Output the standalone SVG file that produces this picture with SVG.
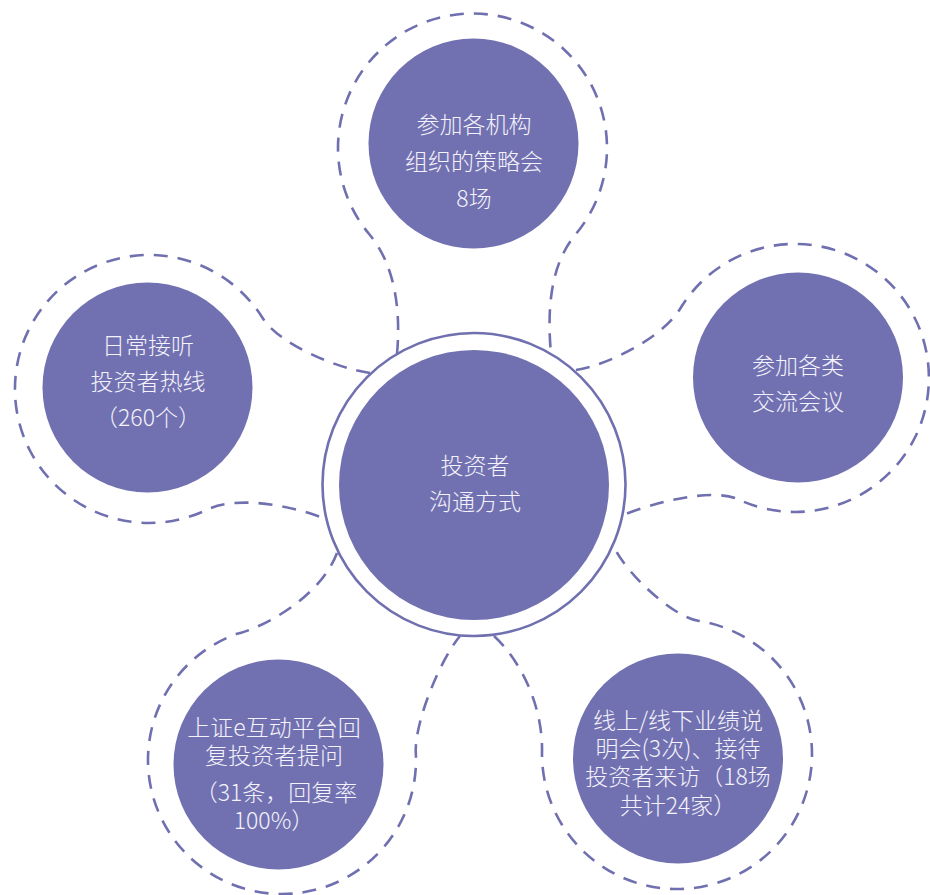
<svg xmlns="http://www.w3.org/2000/svg" width="930" height="895" viewBox="0 0 930 895">
<style>
.dash{fill:none;stroke:#7070B0;stroke-width:2.6;stroke-dasharray:14 10}
.node{fill:#7171B1}
.ring{fill:#FFFFFF;stroke:#7070B0;stroke-width:2.6}
.t{font-family:"Noto Sans CJK SC","Noto Sans",sans-serif;font-size:23px;font-weight:300;fill:#F4F2FA;text-anchor:middle}
</style>
<rect x="0" y="0" width="930" height="895" fill="#FFFFFF"/>
<g id="connectors">
<path class="dash" d="M 397,354 C 401,310 395,265 369.5,234.5 A 134.5 134.5 0 1 1 575.5,234.5 C 550,265 547,310 551,354"/>
<path class="dash" d="M 370,373 C 335,368 278.5,343.4 262.6,318 A 134 134 0 1 0 205.6,510.4 C 235,495 290,505 323,518"/>
<path class="dash" d="M 576,370 C 608,365 662,338 680,309 A 134 134 0 1 1 740.5,500.4 C 713,486 650.8,503.9 623,515"/>
<path class="dash" d="M 494,636 C 520,660 543,705 542,752 A 135 135 0 1 0 698.1,620.7 C 673.4,616.8 628.5,575.7 615,549"/>
<path class="dash" d="M 337,553 C 320,598 262,628 236.2,634.1 A 134 134 0 1 0 415.8,753 C 414.2,723 440,660 460,636"/>
</g>
<g id="center">
<circle class="ring" cx="474" cy="484.5" r="151.5"/>
<circle class="node" cx="474" cy="485" r="135"/>
<text class="t" x="475" y="474">投资者</text>
<text class="t" x="475" y="510">沟通方式</text>
</g>
<g id="node-top">
<circle class="node" cx="473.5" cy="143.5" r="105"/>
<text class="t" x="474" y="133">参加各机构</text>
<text class="t" x="474" y="170">组织的策略会</text>
<text class="t" x="474" y="207">8场</text>
</g>
<g id="node-left">
<circle class="node" cx="147.5" cy="387.5" r="105"/>
<text class="t" x="148" y="354">日常接听</text>
<text class="t" x="148" y="390">投资者热线</text>
<text class="t" x="148" y="426">（260个）</text>
</g>
<g id="node-right">
<circle class="node" cx="798" cy="377.5" r="105"/>
<text class="t" x="798" y="374">参加各类</text>
<text class="t" x="798" y="410">交流会议</text>
</g>
<g id="node-bottom-left">
<circle class="node" cx="278.5" cy="764.5" r="105"/>
<text class="t" x="274" y="736">上证e互动平台回</text>
<text class="t" x="274" y="764">复投资者提问</text>
<text class="t" x="276" y="801">（31条，回复率</text>
<text class="t" x="274" y="829">100%）</text>
</g>
<g id="node-bottom-right">
<circle class="node" cx="678" cy="758.5" r="105"/>
<text class="t" x="678" y="728.5">线上/线下业绩说</text>
<text class="t" x="678" y="757">明会(3次)、接待</text>
<text class="t" x="678" y="785">投资者来访（18场</text>
<text class="t" x="678" y="813.5">共计24家）</text>
</g>
</svg>
